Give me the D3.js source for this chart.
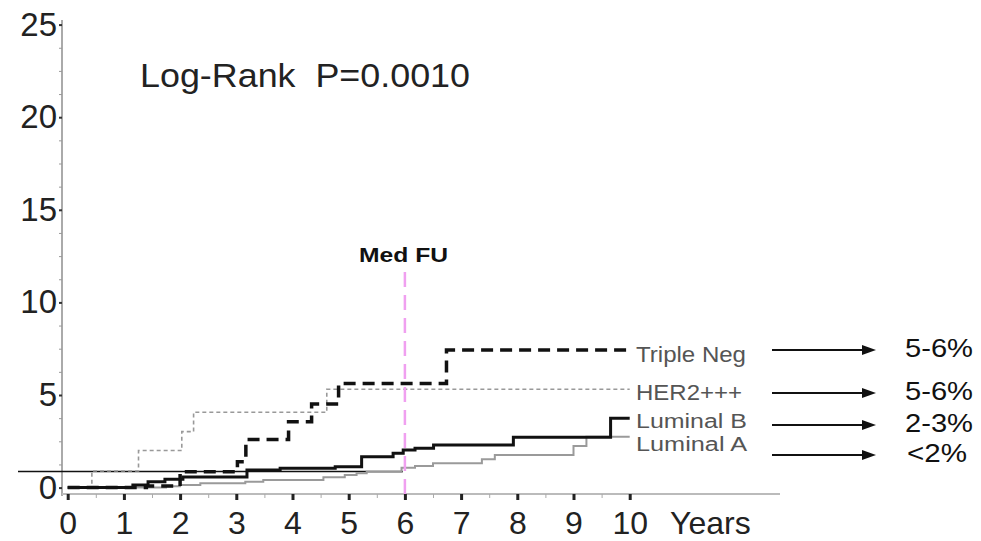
<!DOCTYPE html>
<html>
<head>
<meta charset="utf-8">
<script src="https://cdn.jsdelivr.net/npm/d3@7"></script>
<style>
  body { margin: 0; background: #fff; }
  svg text { font-family: "Liberation Sans", Arial, sans-serif; }
</style>
</head>
<body>
<script>
// step points: [years, cumulative %]
const tripleNeg = [[0,0],[1.4,0.08],[2.0,0.86],[3.02,1.4],[3.17,2.6],[3.93,3.56],[4.34,4.51],[4.82,5.62],[6.74,7.43],[10,7.43]];
const her2 = [[0,0],[0.43,0.9],[1.26,2.0],[2.03,3.02],[2.24,4.07],[4.61,5.31],[10,5.31]];
const luminalB = [[0,0],[1.16,0.14],[1.43,0.32],[1.73,0.45],[2.05,0.57],[3.19,0.95],[3.78,1.04],[4.76,1.13],[5.23,1.67],[5.79,1.85],[5.97,2.03],[6.18,2.12],[6.51,2.3],[7.93,2.72],[9.66,3.74],[10,3.74]];
const luminalA = [[0,0],[1.75,0.07],[2.0,0.14],[2.36,0.23],[3.16,0.32],[3.48,0.41],[4.55,0.56],[4.93,0.68],[5.14,0.77],[5.32,0.86],[5.94,1.07],[6.18,1.17],[6.5,1.31],[7.37,1.53],[7.6,1.76],[9.0,2.25],[9.23,2.75],[10,2.75]];

const seriesNames = ["Triple Neg", "HER2+++", "Luminal B", "Luminal A"];
const riskLabels = ["5-6%", "5-6%", "2-3%", "<2%"];
const xTicks = [0,1,2,3,4,5,6,7,8,9,10];
const yTicks = [0,5,10,15,20,25];
const medFU = 6;
const refLevel = 0.87;
const title = "Log-Rank  P=0.0010";

const width = 981, height = 541;
const x = d3.scaleLinear().domain([0, 10]).range([67.7, 629.7]);
const y = d3.scaleLinear().domain([0, 25]).range([487.6, 24.6]);
const yAxisX = 62, xAxisY = 494;

const svg = d3.select("body").append("svg")
  .attr("width", width).attr("height", height);

function drawAxes() {
  // axis lines (offset from data origin, SPSS style)
  svg.append("line").attr("x1", yAxisX).attr("x2", yAxisX).attr("y1", 20).attr("y2", xAxisY + 2)
    .attr("stroke", "#aaa").attr("stroke-width", 2);
  svg.append("line").attr("x1", yAxisX).attr("x2", 780).attr("y1", xAxisY).attr("y2", xAxisY)
    .attr("stroke", "#bbb").attr("stroke-width", 2);

  // y minor ticks
  const yMinor = d3.range(0, 25.01, 1.25).filter(v => v % 5 !== 0);
  svg.append("g").attr("transform", `translate(${yAxisX},0)`)
    .call(d3.axisLeft(y).tickValues(yMinor).tickSize(3).tickFormat(""))
    .call(g => g.select(".domain").remove())
    .selectAll("line").attr("stroke", "#999");

  const yAxis = svg.append("g").attr("transform", `translate(${yAxisX},0)`)
    .call(d3.axisLeft(y).tickValues(yTicks).tickSize(3).tickPadding(2));
  yAxis.select(".domain").remove();
  yAxis.selectAll("line").attr("stroke", "#333").attr("stroke-width", 2);
  yAxis.selectAll("text").attr("font-size", 33).attr("fill", "#222")
    .attr("font-family", "Liberation Sans, Arial, sans-serif");

  // x minor ticks
  svg.append("g").attr("transform", `translate(0,${xAxisY})`)
    .call(d3.axisBottom(x).tickValues(d3.range(0.5, 10, 1)).tickSize(4).tickFormat(""))
    .call(g => g.select(".domain").remove())
    .selectAll("line").attr("stroke", "#aaa");

  const xAxis = svg.append("g").attr("transform", `translate(0,${xAxisY})`)
    .call(d3.axisBottom(x).tickValues(xTicks).tickSize(6).tickPadding(11));
  xAxis.select(".domain").remove();
  xAxis.selectAll("line").attr("stroke", "#222").attr("stroke-width", 3);
  xAxis.selectAll("text").attr("font-size", 32).attr("fill", "#222")
    .attr("font-family", "Liberation Sans, Arial, sans-serif");

  svg.append("text").attr("x", 670).attr("y", 534)
    .attr("font-size", 32).attr("fill", "#222").text("Years");
}

function drawCurves() {
  const line = d3.line()
    .x(d => x(d[0]))
    .y(d => y(d[1]))
    .curve(d3.curveStepAfter);

  // reference line
  svg.append("line").attr("x1", 18).attr("x2", x(medFU) - 2)
    .attr("y1", y(refLevel)).attr("y2", y(refLevel))
    .attr("stroke", "#111").attr("stroke-width", 1.6);

  const styles = [
    { data: luminalA, stroke: "#9a9a9a", w: 2, dash: null },
    { data: her2, stroke: "#999", w: 1.6, dash: "4,3" },
    { data: luminalB, stroke: "#111", w: 3, dash: null },
    { data: tripleNeg, stroke: "#111", w: 3.5, dash: "12,7" },
  ];
  svg.append("g").selectAll("path").data(styles).enter().append("path")
    .attr("d", d => line(d.data))
    .attr("fill", "none")
    .attr("stroke", d => d.stroke)
    .attr("stroke-width", d => d.w)
    .attr("stroke-dasharray", d => d.dash);

  // median follow-up marker
  svg.append("line").attr("x1", x(medFU)).attr("x2", x(medFU))
    .attr("y1", 272).attr("y2", 502)
    .attr("stroke", "#f0a0f0").attr("stroke-width", 2.5).attr("stroke-dasharray", "15,8");
  svg.append("text").attr("x", 359).attr("y", 262)
    .attr("font-family", "DejaVu Sans, Verdana, sans-serif")
    .attr("font-weight", "bold").attr("font-size", 20).attr("fill", "#111")
    .attr("textLength", 89).attr("lengthAdjust", "spacingAndGlyphs")
    .text("Med FU");
}

function drawLabels() {
  svg.append("text").attr("x", 140).attr("y", 87)
    .attr("font-size", 33).attr("fill", "#222")
    .attr("xml:space", "preserve").style("white-space", "pre")
    .attr("textLength", 330).attr("lengthAdjust", "spacingAndGlyphs")
    .text(title);

  const nameY = [362, 400, 428, 451];
  svg.append("g").selectAll("text").data(seriesNames).enter().append("text")
    .attr("x", 636).attr("y", (d, i) => nameY[i])
    .attr("font-size", (d, i) => (i < 2 ? 22 : 20)).attr("fill", "#555")
    .attr("textLength", (d, i) => [110, 106, 111, 111][i]).attr("lengthAdjust", "spacingAndGlyphs")
    .text(d => d);

  const arrowY = [350, 393, 425, 455];
  const riskY = [357, 400, 432, 462];
  const arrows = svg.append("g");
  arrowY.forEach(ay => {
    arrows.append("line").attr("x1", 772).attr("x2", 864).attr("y1", ay).attr("y2", ay)
      .attr("stroke", "#111").attr("stroke-width", 2);
    arrows.append("path").attr("d", `M862,${ay - 5}L876,${ay}L862,${ay + 5}Z`).attr("fill", "#111");
  });
  svg.append("g").selectAll("text").data(riskLabels).enter().append("text")
    .attr("x", (d, i) => (i === 3 ? 907 : 905)).attr("y", (d, i) => riskY[i])
    .attr("font-size", 25).attr("fill", "#111")
    .attr("textLength", (d, i) => (i === 3 ? 60 : 68)).attr("lengthAdjust", "spacingAndGlyphs")
    .text(d => d);
}

drawAxes();
drawCurves();
drawLabels();
</script>
</body>
</html>
